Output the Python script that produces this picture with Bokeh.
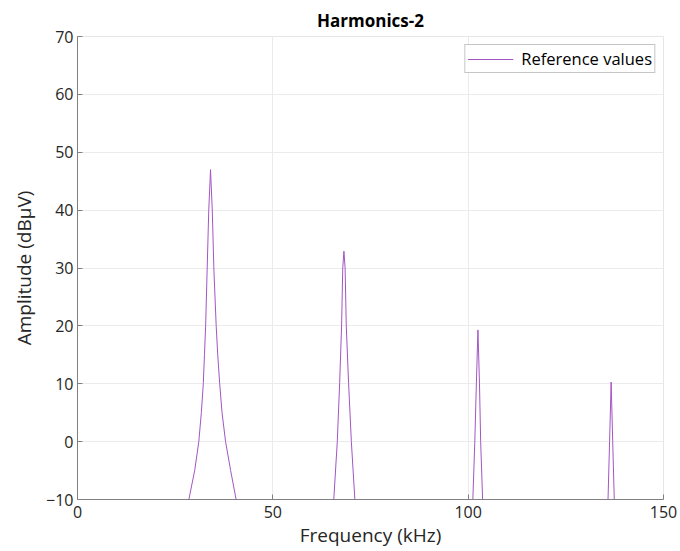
import numpy as np
from bokeh.plotting import figure
from bokeh.models import FixedTicker, Range1d
from bokeh.embed import file_html
from bokeh.resources import INLINE

# Peak shapes (frequency in kHz, amplitude in dBuV)
peak1_freq = [28.5, 30.0, 31.05, 31.7, 32.2, 32.5, 32.8, 33.2, 33.6, 34.05,
              34.5, 34.9, 35.5, 35.9, 36.4, 37.0, 37.9, 39.2, 40.6]
peak1_amp = [-10, -5, 0, 5, 10, 15, 20, 30, 40, 47.0,
             40, 30, 20, 15, 10, 5, 0, -5, -10]

peak2_freq = [65.6, 66.5, 67.1, 67.6, 67.9, 68.2, 68.5, 68.8, 69.4, 70.1, 71.0]
peak2_amp = [-10, 0, 10, 20, 30, 32.9, 30, 20, 10, 0, -10]

peak3_freq = [101.2, 101.7, 102.1, 102.5, 102.9, 103.2, 103.7]
peak3_amp = [-10, 0, 10, 19.3, 10, 0, -10]

peak4_freq = [135.8, 136.2, 136.6, 137.0, 137.4]
peak4_amp = [-10, 0, 10.3, 0, -10]

x_ticks = [0, 50, 100, 150]
y_ticks = [-10, 0, 10, 20, 30, 40, 50, 60, 70]

FONT = "Open Sans"
TEXT = "#262626"

freq = []
amp = []
for fx, fy in [(peak1_freq, peak1_amp), (peak2_freq, peak2_amp),
               (peak3_freq, peak3_amp), (peak4_freq, peak4_amp)]:
    freq += fx + [np.nan]
    amp += fy + [np.nan]

p = figure(width=680, height=551, output_backend="svg", toolbar_location=None,
           title="Harmonics-2",
           x_range=Range1d(0, 150), y_range=Range1d(-10, 70),
           min_border_left=77, min_border_right=17, min_border_top=36,
           min_border_bottom=52)

p.line(freq, amp, line_color="#a355c4", line_width=1, legend_label="Reference values")

p.title.align = "center"
p.title.text_font = FONT
p.title.text_font_size = "17px"
p.title.text_font_style = "bold"
p.title.text_color = "#000000"

p.outline_line_color = "#e6e6e6"
p.background_fill_color = "white"
p.border_fill_color = "white"

for ax in (p.xaxis[0], p.yaxis[0]):
    ax.axis_line_color = "#808080"
    ax.major_tick_line_color = "#808080"
    ax.major_tick_in = 5
    ax.major_tick_out = 0
    ax.minor_tick_line_color = None
    ax.major_label_text_font = FONT
    ax.major_label_text_font_size = "16px"
    ax.major_label_text_color = TEXT
    ax.axis_label_text_font = FONT
    ax.axis_label_text_font_size = "19px"
    ax.axis_label_text_font_style = "normal"
    ax.axis_label_text_color = TEXT

p.xaxis.ticker = FixedTicker(ticks=x_ticks)
p.yaxis.ticker = FixedTicker(ticks=y_ticks)
p.xaxis.axis_label = "Frequency (kHz)"
p.yaxis.axis_label = "Amplitude (dBμV)"
p.xaxis.major_label_standoff = 6
p.yaxis.major_label_standoff = 4
p.xaxis.axis_label_standoff = 1
p.yaxis.axis_label_standoff = 6

p.grid.grid_line_color = "#ebebeb"
p.grid.grid_line_width = 1

p.legend.location = "top_right"
p.legend.margin = 8
p.legend.padding = 2
p.legend.spacing = 0
p.legend.glyph_width = 46
p.legend.glyph_height = 14
p.legend.label_standoff = 8
p.legend.label_text_font = FONT
p.legend.label_text_font_size = "16.5px"
p.legend.label_text_color = "#000000"
p.legend.label_height = 18
p.legend.border_line_color = "#8c8c8c"
p.legend.background_fill_alpha = 1.0

open("out.html", "w").write(file_html(p, INLINE))
